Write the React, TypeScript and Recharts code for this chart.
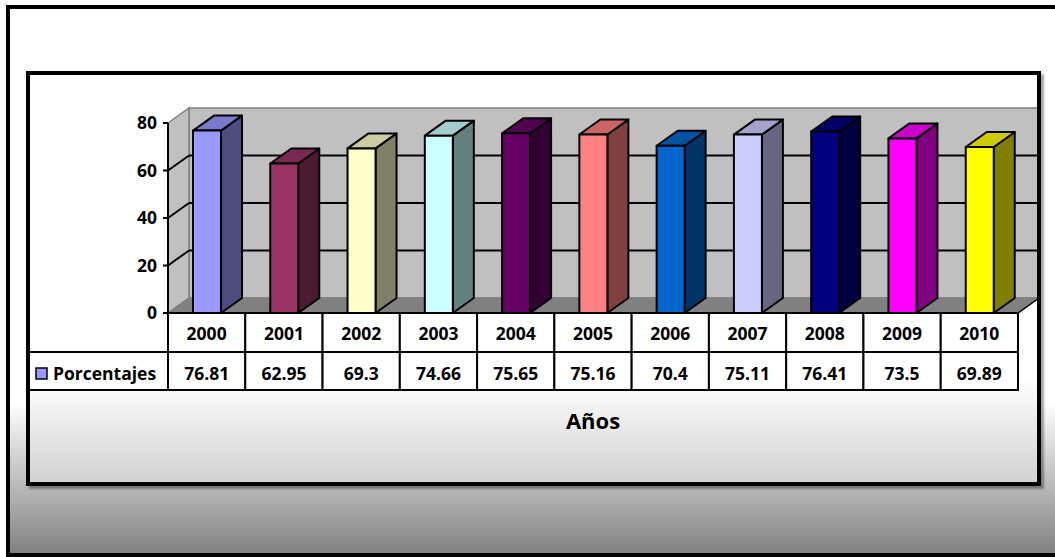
import React from 'react';
import { BarChart, Bar, XAxis, YAxis, CartesianGrid, ReferenceArea } from 'recharts';

// ---- data ----
const YEARS = ['2000', '2001', '2002', '2003', '2004', '2005', '2006', '2007', '2008', '2009', '2010'];
const PORCENTAJES = [76.81, 62.95, 69.3, 74.66, 75.65, 75.16, 70.4, 75.11, 76.41, 73.5, 69.89];
const SERIES_NAME = 'Porcentajes';
const AXIS_TITLE = 'Años';
const Y_TICKS = [0, 20, 40, 60, 80];
const BAR_COLORS = [
  '#9999FF', '#993366', '#FFFFCC', '#CCFFFF', '#660066', '#FF8080',
  '#0066CC', '#CCCCFF', '#000080', '#FF00FF', '#FFFF00',
];

const rows = YEARS.map((year, i) => ({ year, value: PORCENTAJES[i] }));

// ---- styling ----
const FONT = '"Open Sans", "DejaVu Sans", sans-serif';
const DX = 21; // 3D depth, horizontal
const DY = 15; // 3D depth, vertical
const WALL = '#c0c0c0';
const FLOOR = '#808080';
const EDGE = '#808080';
const HEADER_ROW = 39;
const VALUE_ROW = 38;
const TABLE_LEFT = 28;
const TEXT_SIZE = 17.5;

function shade(hex: string, f: number): string {
  const n = parseInt(hex.slice(1), 16);
  const r = Math.round(((n >> 16) & 255) * f);
  const g = Math.round(((n >> 8) & 255) * f);
  const b = Math.round((n & 255) * f);
  return `rgb(${r},${g},${b})`;
}

// Back wall, side wall and floor of the 3D plot box
function Walls(props: any) {
  const { x, y, width, height } = props;
  const bottom = y + height;
  return (
    <g>
      <rect x={x + DX} y={y - DY} width={width} height={height} fill={WALL} stroke={EDGE} strokeWidth={1.5} />
      <polygon
        points={`${x},${y} ${x + DX},${y - DY} ${x + DX},${bottom - DY} ${x},${bottom}`}
        fill={WALL}
        stroke={EDGE}
        strokeWidth={1.5}
      />
      <polygon
        points={`${x},${bottom} ${x + DX},${bottom - DY} ${x + width + DX},${bottom - DY} ${x + width},${bottom}`}
        fill={FLOOR}
        stroke={EDGE}
        strokeWidth={1.5}
      />
      <line x1={x + width} y1={bottom} x2={x + width + DX} y2={bottom - DY} stroke="#000" strokeWidth={1.5} />
    </g>
  );
}

// Gridline drawn on the side wall and back wall
function wallGridLine(p: any) {
  const { x1, y1, x2, key, y, height } = p;
  const top = typeof y === 'number' ? y : -Infinity;
  const bot = typeof y === 'number' && typeof height === 'number' ? y + height : Infinity;
  if (Math.abs(y1 - top) < 1 || Math.abs(y1 - bot) < 1) return <g key={key} />;
  return (
    <g key={key}>
      <line x1={x1} y1={y1} x2={x1 + DX} y2={y1 - DY} stroke="#000" strokeWidth={2} />
      <line x1={x1 + DX} y1={y1 - DY} x2={x2 + DX} y2={y1 - DY} stroke="#000" strokeWidth={2} />
    </g>
  );
}

// 3D column: front, top and side faces
function Column(props: any) {
  const { x, y, width, height, index, payload } = props;
  if (height == null || width == null) return <g />;
  const i = typeof index === 'number' ? index : YEARS.indexOf(payload?.year);
  const base = BAR_COLORS[i % BAR_COLORS.length];
  const b = y + height;
  const sw = 2;
  return (
    <g strokeLinejoin="round">
      <polygon
        points={`${x + width},${y} ${x + width + DX},${y - DY} ${x + width + DX},${b - DY} ${x + width},${b}`}
        fill={shade(base, 0.5)}
        stroke="#000"
        strokeWidth={sw}
      />
      <polygon
        points={`${x},${y} ${x + DX},${y - DY} ${x + width + DX},${y - DY} ${x + width},${y}`}
        fill={shade(base, 0.8)}
        stroke="#000"
        strokeWidth={sw}
      />
      <rect x={x} y={y} width={width} height={height} fill={base} stroke="#000" strokeWidth={sw} />
    </g>
  );
}

const textStyle = { fontFamily: FONT, fontWeight: 700, fontSize: TEXT_SIZE, fill: '#000' };

// Category tick rendered as a column of the data table
function TableTick(props: any) {
  const { x, y, payload, width } = props;
  const year = String(payload?.value);
  const i = YEARS.indexOf(year);
  const axisW = typeof width === 'number' && width > 0 ? width : 850;
  const cellW = axisW / YEARS.length;
  const left = x - cellW / 2;
  return (
    <g>
      <rect x={left} y={y} width={cellW} height={HEADER_ROW} fill="#fff" stroke="#000" strokeWidth={2} />
      <rect x={left} y={y + HEADER_ROW} width={cellW} height={VALUE_ROW} fill="#fff" stroke="#000" strokeWidth={2} />
      <text x={x} y={y + 27} textAnchor="middle" style={textStyle}>{year}</text>
      <text x={x} y={y + HEADER_ROW + 28} textAnchor="middle" style={textStyle}>{String(PORCENTAJES[i])}</text>
      {i === 0 && (
        <g>
          <rect
            x={TABLE_LEFT}
            y={y + HEADER_ROW}
            width={left - TABLE_LEFT}
            height={VALUE_ROW}
            fill="#fff"
            stroke="#000"
            strokeWidth={2}
          />
          <rect x={36} y={y + HEADER_ROW + 16} width={11} height={11} fill={BAR_COLORS[0]} stroke="#000" strokeWidth={1.5} />
          <text x={53} y={y + HEADER_ROW + 28} textAnchor="start" style={textStyle}>{SERIES_NAME}</text>
        </g>
      )}
    </g>
  );
}

export default function App() {
  return (
    <div style={{ position: 'absolute', left: 0, top: 0, width: 1055, height: 557, overflow: 'hidden', background: '#fff' }}>
      {/* outer chart area fill */}
      <div
        style={{
          position: 'absolute', left: 6, top: 5, width: 1100, height: 552,
          background: 'linear-gradient(to bottom, #ffffff 0%, #ffffff 72%, #7e7e7e 100%)',
        }}
      />
      {/* inner plot area fill */}
      <div
        style={{
          position: 'absolute', left: 26, top: 71, width: 1015, height: 415,
          background: 'linear-gradient(to bottom, #ffffff 0%, #ffffff 74%, #d0d0d0 100%)',
          boxShadow: '3px 3px 2px rgba(0,0,0,0.35)',
        }}
      />
      <div style={{ position: 'absolute', left: 0, top: 0 }}>
        <BarChart
          width={1055}
          height={557}
          data={rows}
          margin={{ top: 123, right: 37, bottom: 167, left: 108 }}
          barSize={28}
        >
          <ReferenceArea y1={0} y2={80} ifOverflow="visible" zIndex={-200} shape={(p: any) => <Walls {...p} />} />
          <CartesianGrid vertical={false} horizontal={wallGridLine} />
          <XAxis
            dataKey="year"
            axisLine={false}
            tickLine={false}
            tickSize={0}
            tickMargin={0}
            interval={0}
            height={77}
            tick={(p: any) => <TableTick {...p} />}
            label={{
              value: AXIS_TITLE,
              position: 'bottom',
              offset: 23,
              fill: '#000',
              fontSize: 22,
              fontWeight: 700,
              fontFamily: FONT,
            }}
          />
          <YAxis
            domain={[0, 80]}
            ticks={Y_TICKS}
            interval={0}
            width={60}
            axisLine={{ stroke: '#000', strokeWidth: 2 }}
            tickLine={{ stroke: '#000', strokeWidth: 2 }}
            tickSize={5}
            tickMargin={6}
            tick={{ fill: '#000', fontSize: TEXT_SIZE, fontWeight: 700, fontFamily: FONT }}
          />
          <Bar dataKey="value" isAnimationActive={false} shape={(p: any) => <Column {...p} />} />
        </BarChart>
      </div>
      {/* frame borders drawn over the chart */}
      <div
        style={{
          position: 'absolute', left: 6, top: 5, width: 1100, height: 552,
          border: '4px solid #000', boxSizing: 'border-box', pointerEvents: 'none',
        }}
      />
      <div
        style={{
          position: 'absolute', left: 26, top: 71, width: 1015, height: 415,
          border: '4px solid #000', boxSizing: 'border-box', pointerEvents: 'none',
        }}
      />
    </div>
  );
}
